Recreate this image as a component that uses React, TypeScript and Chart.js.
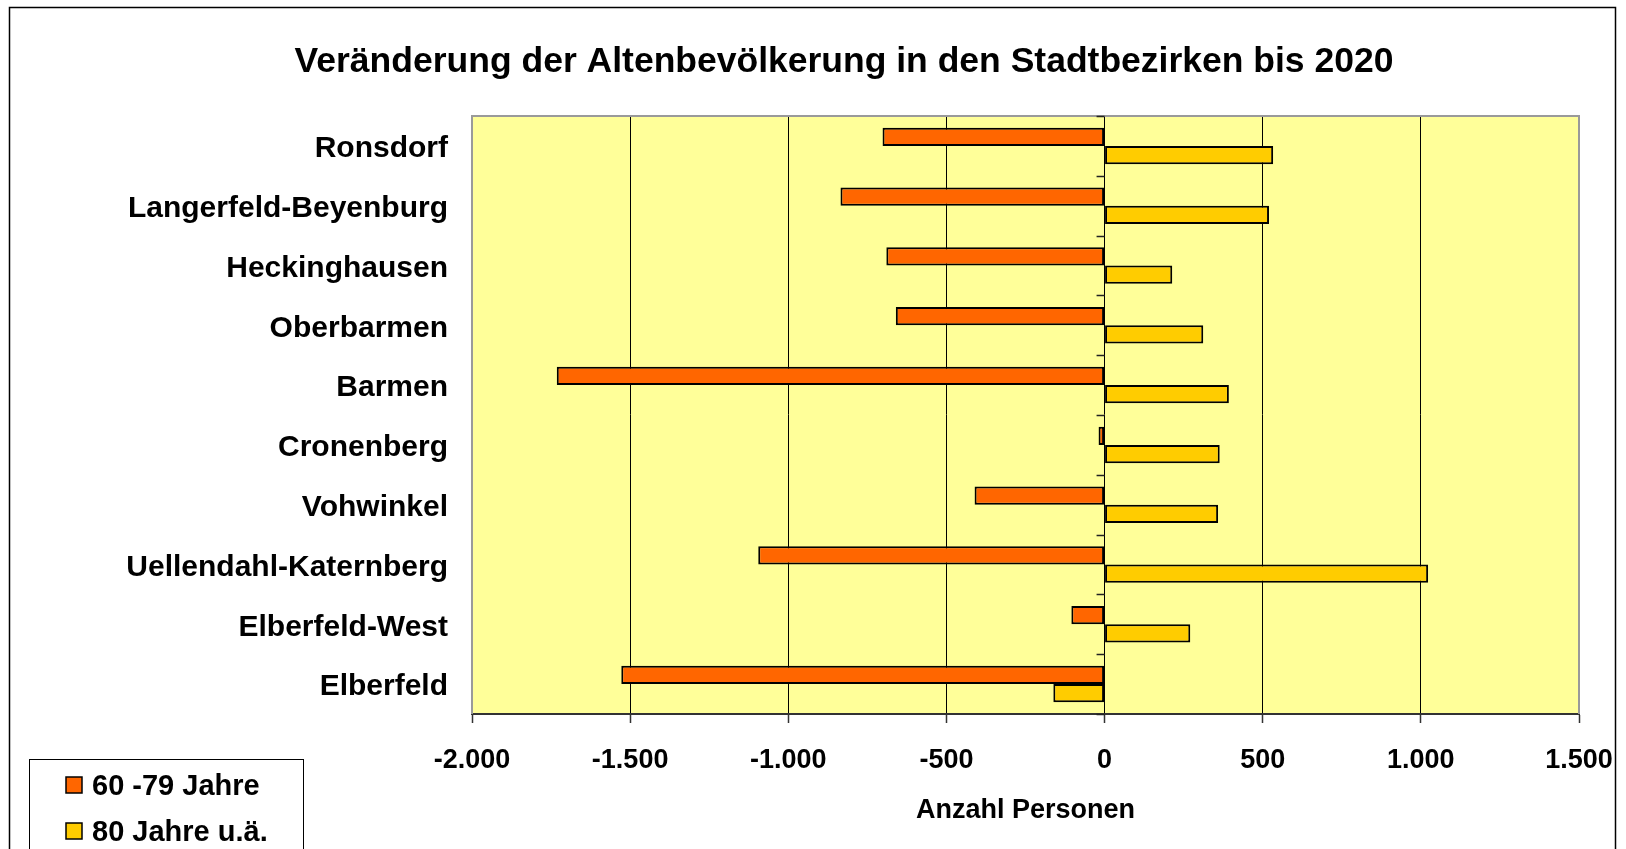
import React, { useEffect, useRef } from "react";
import { Chart, registerables } from "chart.js";

Chart.register(...registerables);

const titleText = "Veränderung der Altenbevölkerung in den Stadtbezirken bis 2020";
const axisTitle = "Anzahl Personen";
const categories = [
  "Ronsdorf",
  "Langerfeld-Beyenburg",
  "Heckinghausen",
  "Oberbarmen",
  "Barmen",
  "Cronenberg",
  "Vohwinkel",
  "Uellendahl-Katernberg",
  "Elberfeld-West",
  "Elberfeld",
];
const seriesNames = ["60 -79 Jahre", "80 Jahre u.ä."];
const age60to79 = [-702, -835, -690, -660, -1732, -19, -411, -1095, -105, -1528];
const age80plus = [533, 520, 214, 312, 393, 364, 359, 1023, 271, -162];
const xMin = -2000;
const xMax = 1500;
const xStep = 500;

const FONT = '"Liberation Sans", Arial, Helvetica, sans-serif';
const ORANGE = "#FF6600";
const YELLOW = "#FFCC00";
const PLOT_BG = "#FFFF99";

function fmt(v: number): string {
  const s = Math.abs(Math.round(v)).toString();
  const withDots = s.replace(/\B(?=(\d{3})+(?!\d))/g, ".");
  return (v < 0 ? "-" : "") + withDots;
}

const decorPlugin = {
  id: "decor",
  beforeDraw(chart: any) {
    const { ctx, chartArea } = chart;
    ctx.save();
    ctx.fillStyle = "#ffffff";
    ctx.fillRect(0, 0, chart.width, chart.height);
    ctx.fillStyle = PLOT_BG;
    ctx.fillRect(chartArea.left, chartArea.top, chartArea.right - chartArea.left, chartArea.bottom - chartArea.top);
    ctx.restore();
  },
  afterDatasetsDraw(chart: any) {
    const { ctx, chartArea, scales } = chart;
    ctx.save();
    ctx.strokeStyle = "#9a9a9a";
    ctx.lineWidth = 2;
    ctx.beginPath();
    ctx.moveTo(chartArea.left, chartArea.bottom);
    ctx.lineTo(chartArea.left, chartArea.top);
    ctx.lineTo(chartArea.right, chartArea.top);
    ctx.lineTo(chartArea.right, chartArea.bottom);
    ctx.stroke();
    const x0 = scales.x.getPixelForValue(0);
    const n = categories.length;
    const h = (chartArea.bottom - chartArea.top) / n;
    ctx.strokeStyle = "#222";
    ctx.lineWidth = 1.5;
    ctx.beginPath();
    for (let i = 0; i <= n; i++) {
      const y = Math.round(chartArea.top + i * h) + 0.5;
      ctx.moveTo(x0 - 8, y);
      ctx.lineTo(x0, y);
    }
    ctx.stroke();
    ctx.restore();
  },
  afterDraw(chart: any) {
    const { ctx } = chart;
    ctx.save();
    ctx.fillStyle = "#000";
    ctx.font = `bold 35.5px ${FONT}`;
    ctx.textAlign = "center";
    ctx.textBaseline = "alphabetic";
    ctx.fillText(titleText, 844, 72);
    ctx.strokeStyle = "#000";
    ctx.lineWidth = 1.5;
    ctx.strokeRect(9.5, 7.5, 1606, 900);
    ctx.lineWidth = 1;
    ctx.strokeRect(29.5, 759.5, 274, 120);
    const colors = [ORANGE, YELLOW];
    const tops = [777, 823];
    for (let i = 0; i < 2; i++) {
      ctx.fillStyle = colors[i];
      ctx.fillRect(66, tops[i], 16, 16);
      ctx.strokeStyle = "#000";
      ctx.lineWidth = 1.5;
      ctx.strokeRect(66, tops[i], 16, 16);
      ctx.fillStyle = "#000";
      ctx.font = `bold 29px ${FONT}`;
      ctx.textAlign = "left";
      ctx.textBaseline = "alphabetic";
      ctx.fillText(seriesNames[i], 92, tops[i] + 18);
    }
    ctx.restore();
  },
};

export default function App() {
  const canvasRef = useRef<HTMLCanvasElement | null>(null);

  useEffect(() => {
    const canvas = canvasRef.current;
    if (!canvas) return;
    const chart = new Chart(canvas, {
      type: "bar",
      data: {
        labels: categories,
        datasets: [
          {
            label: seriesNames[0],
            data: age60to79,
            backgroundColor: ORANGE,
            borderColor: "#000",
            borderWidth: 2,
            borderSkipped: false,
            categoryPercentage: 0.61,
            barPercentage: 1,
          },
          {
            label: seriesNames[1],
            data: age80plus,
            backgroundColor: YELLOW,
            borderColor: "#000",
            borderWidth: 2,
            borderSkipped: false,
            categoryPercentage: 0.61,
            barPercentage: 1,
          },
        ],
      },
      options: {
        indexAxis: "y",
        responsive: false,
        maintainAspectRatio: false,
        animation: false,
        devicePixelRatio: 1,
        layout: { padding: { left: 0, top: 116, right: 47, bottom: 0 } },
        plugins: {
          legend: { display: false },
          title: { display: false },
          tooltip: { enabled: false },
        },
        scales: {
          x: {
            type: "linear",
            min: xMin,
            max: xMax,
            ticks: {
              stepSize: xStep,
              color: "#000",
              font: { family: FONT, size: 27, weight: "bold" },
              padding: 21,
              maxRotation: 0,
              callback: (v: any) => fmt(Number(v)),
            },
            grid: {
              color: (c: any) =>
                c.tick && (c.tick.value === xMin || c.tick.value === xMax) ? "rgba(0,0,0,0)" : "#000",
              lineWidth: 1,
              drawTicks: true,
              tickLength: 9,
              tickColor: "#333",
              tickWidth: 1.5,
            },
            border: { display: true, color: "#333", width: 2 },
            title: {
              display: true,
              text: axisTitle,
              color: "#000",
              font: { family: FONT, size: 27, weight: "bold" },
              padding: { top: 0, bottom: 22 },
            },
            afterFit: (s: any) => {
              s.height = 135;
              s.paddingLeft = 0;
              s.paddingRight = 0;
            },
          },
          y: {
            type: "category",
            grid: { display: false },
            border: { display: false },
            ticks: {
              color: "#000",
              font: { family: FONT, size: 30, weight: "bold" },
              padding: 16,
              labelOffset: 3,
            },
            afterFit: (s: any) => {
              s.width = 472;
              s.paddingTop = 0;
              s.paddingBottom = 0;
            },
          },
        },
      },
      plugins: [decorPlugin],
    } as any);
    return () => chart.destroy();
  }, []);

  return (
    <div style={{ position: "absolute", left: 0, top: 0, width: 1626, height: 849, overflow: "hidden" }}>
      <canvas ref={canvasRef} width={1626} height={849} style={{ display: "block" }} />
    </div>
  );
}
